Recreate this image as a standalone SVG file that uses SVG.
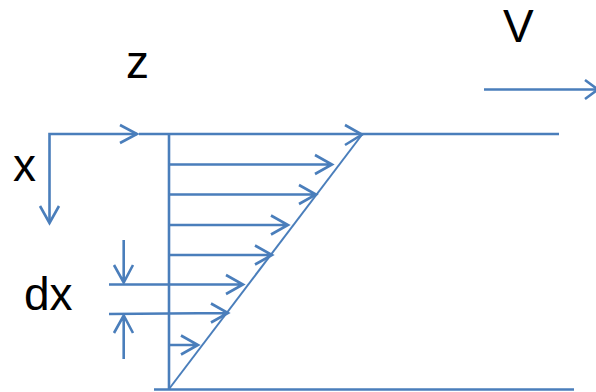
<svg xmlns="http://www.w3.org/2000/svg" width="596" height="392" viewBox="0 0 596 392">
<style>
.l{stroke:#4a7ebb;stroke-width:2.6;fill:none;stroke-linecap:butt;stroke-linejoin:miter}
.t{font-family:"Liberation Sans",Arial,sans-serif;font-size:46px;fill:#000}
</style>
<rect width="596" height="392" fill="#fff"/>
<g id="labels">
<text class="t" x="126" y="78">z</text>
<text class="t" x="13" y="181">x</text>
<text class="t" x="24" y="310">dx</text>
<text class="t" x="503" y="42">V</text>
</g>
<g id="connectors">
<path class="l" d="M49.5,223 V134 H137"/>
<path class="l" d="M120,125 L137,134 L120,143"/>
<path class="l" d="M40,206 L49.5,223 L59,206"/>
<path class="l" d="M139,134 H559"/>
<path class="l" d="M154,389.5 H574"/>
<path class="l" d="M169,134 V389"/>
<path class="l" d="M362.5,134 L169,389" style="stroke-width:2"/>
<path class="l" d="M484,89.5 H598"/>
<path class="l" d="M585,80 L598,89.5 L585,99"/>
<path class="l" d="M345,125 L362,134.5 L345,145"/>
<path class="l" d="M169,164.5 H332 M315,155 L332,164.5 L315,174"/>
<path class="l" d="M169,194.5 H316 M299,185 L316,194.5 L299,204"/>
<path class="l" d="M169,225 H288 M271,215.5 L288,225 L271,234.5"/>
<path class="l" d="M169,255 H272 M255,245.5 L272,255 L255,264.5"/>
<path class="l" d="M109,284.5 H243 M226,275 L243,284.5 L226,294"/>
<path class="l" d="M109,314 L228,313 M211,303.5 L228,313 L211,322.5"/>
<path class="l" d="M169,345 H198 M181,335.5 L198,345 L181,354.5"/>
<path class="l" d="M123.7,240 V282.5 M114,265 L123.7,282.5 L133,265"/>
<path class="l" d="M123.7,359 V315.5 M114,333 L123.7,315.5 L133,333"/>
</g>
</svg>
